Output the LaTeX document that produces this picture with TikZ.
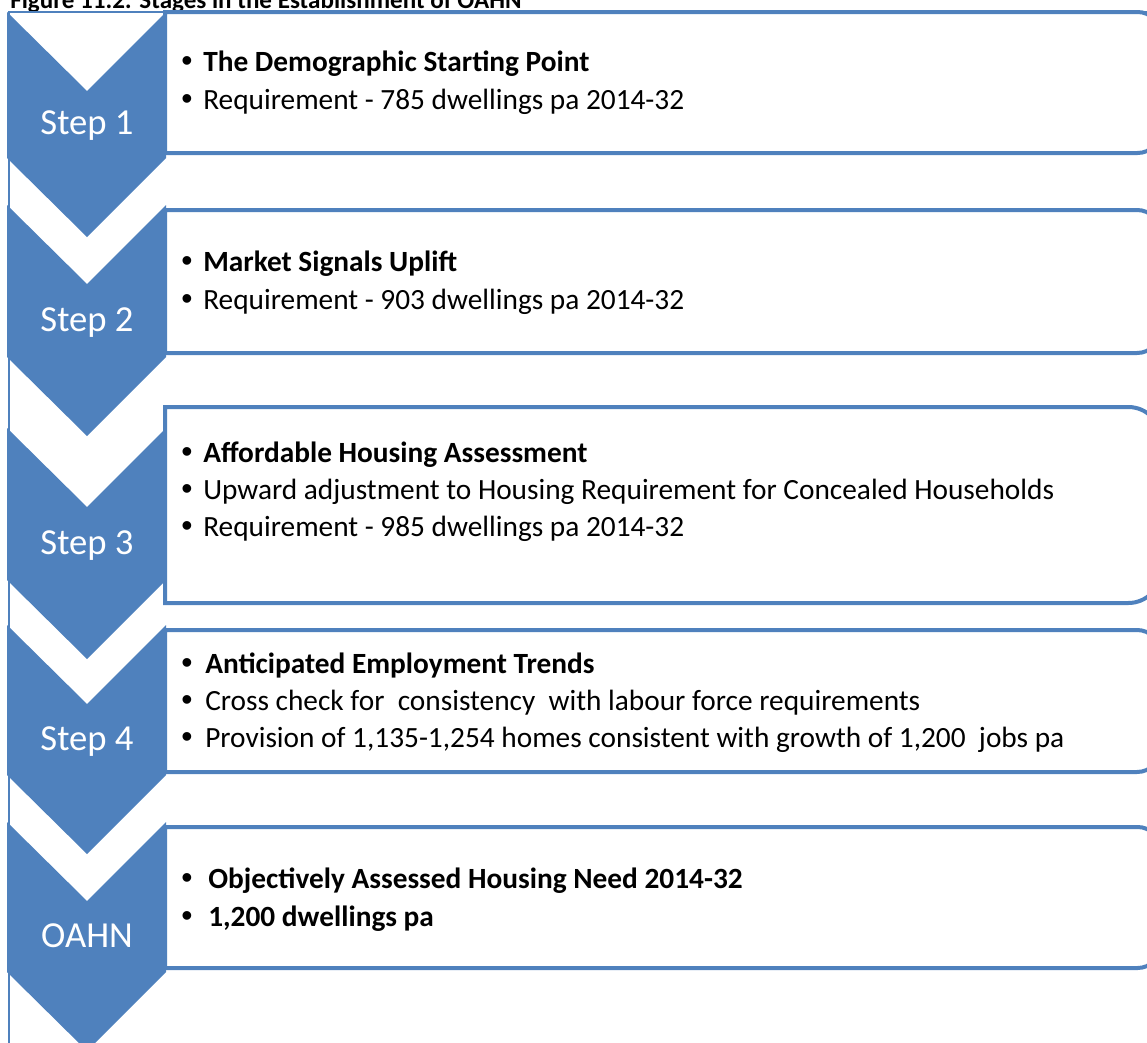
\documentclass[tikz,border=0pt]{standalone}
\usepackage{fontspec}
\setmainfont{Carlito}
\newfontfamily\bulletfont{Liberation Sans}
\usetikzlibrary{calc}
\definecolor{chevblue}{HTML}{4F81BD}
\tikzset{
  frameline/.style={draw=chevblue, line width=1pt},
  chevron/.style={fill=chevblue, draw=none},
  stagebox/.style={draw=chevblue, line width=3pt, fill=white},
  steplabel/.style={text=white, font=\fontsize{27.5}{32}\selectfont, inner sep=0pt, anchor=base},
  itemtext/.style={font=\fontsize{22}{26}\selectfont, inner sep=0pt, anchor=base west},
  itemdot/.style={font=\bulletfont\fontsize{24}{26}\selectfont, inner sep=0pt, anchor=base west},
  titletext/.style={font=\bfseries\fontsize{18.8}{22}\selectfont, inner sep=0pt, anchor=base west}
}

\begin{document}
\begin{tikzpicture}[x=0.75pt, y=-0.75pt]
\useasboundingbox (0,0) rectangle (1147,1043);
\clip (0,0) rectangle (1147,1043);
% caption, cut off at the top
\node[titletext] (title) at (10,8) {Figure 11.2: Stages in the Establishment of OAHN};
% thin frame
\draw[frameline] (9,1060) -- (9,12) -- (1170,12);
% boxes (right corners rounded)
\foreach \t/\b/\r in {12/153/17.6pt, 210/353/18pt, 407/603/24.5pt, 630/772/18pt, 827/968/17.6pt} {
    \draw[stagebox] (165,\t) [rounded corners=\r] -- (1161,\t) -- (1161,\b) [sharp corners] -- (165,\b) -- cycle;
}
% chevrons
\foreach \t/\s/\lab/\bl [count=\i] in {12/158/Step 1/134, 205/357/Step 2/331, 428/580/Step 3/554, 625/775/Step 4/750, 822/972/OAHN/947} {
    \fill[chevron] (7,\t) -- (87,{\t+79}) -- (166,\t) -- (166,\s) -- (87,{\s+79}) -- (7,\s) -- cycle;
    \node[steplabel] (step\i) at (87,\bl) {\lab};
}
% box 1
\node[itemdot] (d11) at (181,71) {•};
\node[itemtext] (t11) at (203,71) {\textbf{The Demographic Starting Point}};
\node[itemdot] (d12) at (181,109) {•};
\node[itemtext] (t12) at (203,109) {Requirement - 785 dwellings pa 2014-32};
% box 2
\node[itemdot] (d21) at (181,271) {•};
\node[itemtext] (t21) at (203,271) {\textbf{Market Signals Uplift}};
\node[itemdot] (d22) at (181,309) {•};
\node[itemtext] (t22) at (203,309) {Requirement - 903 dwellings pa 2014-32};
% box 3
\node[itemdot] (d31) at (181,462) {•};
\node[itemtext] (t31) at (203,462) {\textbf{Affordable Housing Assessment}};
\node[itemdot] (d32) at (181,499) {•};
\node[itemtext] (t32) at (203,499) {Upward adjustment to Housing Requirement for Concealed Households};
\node[itemdot] (d33) at (181,536) {•};
\node[itemtext] (t33) at (203,536) {Requirement - 985 dwellings pa 2014-32};
% box 4
\node[itemdot] (d41) at (181,673) {•};
\node[itemtext] (t41) at (205,673) {\textbf{Anticipated Employment Trends}};
\node[itemdot] (d42) at (181,710) {•};
\node[itemtext] (t42) at (205,710) {Cross check for~ consistency~ with labour force requirements};
\node[itemdot] (d43) at (181,747) {•};
\node[itemtext] (t43) at (205,747) {Provision of 1,135-1,254 homes consistent with growth of 1,200~ jobs pa};
% box 5
\node[itemdot] (d51) at (181,888) {•};
\node[itemtext] (t51) at (208,888) {\textbf{Objectively Assessed Housing Need 2014-32}};
\node[itemdot] (d52) at (181,926) {•};
\node[itemtext] (t52) at (208,926) {\textbf{1,200 dwellings pa}};
\end{tikzpicture}
\end{document}
